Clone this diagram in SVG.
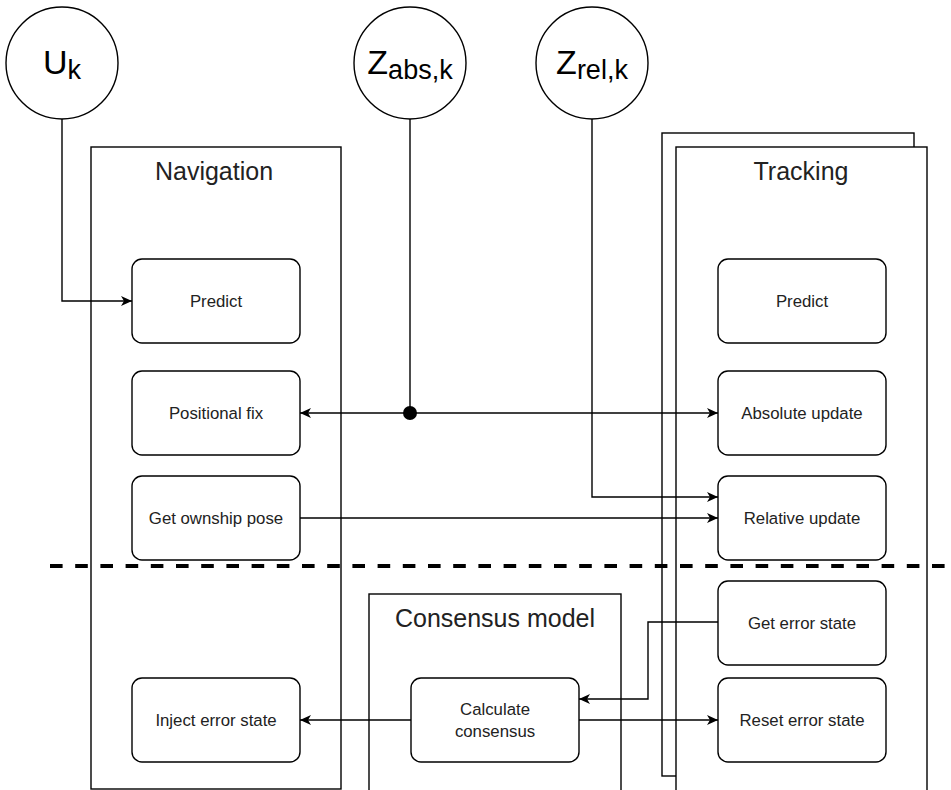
<svg xmlns="http://www.w3.org/2000/svg" width="951" height="790" viewBox="0 0 951 790">
  <style>
    .frame { fill: #ffffff; stroke: #000000; stroke-width: 1.4; }
    .node { fill: #ffffff; stroke: #000000; stroke-width: 1.4; }
    .circ { fill: #ffffff; stroke: #000000; stroke-width: 1.4; }
    .edge { fill: none; stroke: #000000; stroke-width: 1.4; }
    .title { font-family: "Liberation Sans", Arial, Helvetica, sans-serif; font-size: 25px; fill: #222222; text-anchor: middle; }
    .label { font-family: "Liberation Sans", Arial, Helvetica, sans-serif; font-size: 16.8px; fill: #222222; text-anchor: middle; }
    .var { font-family: "Liberation Sans", Arial, Helvetica, sans-serif; font-size: 34px; fill: #000000; text-anchor: middle; }
    .sub { font-size: 27px; }
  </style>
  <defs>
    <marker id="arrow" markerUnits="userSpaceOnUse" markerWidth="12" markerHeight="11" refX="11" refY="5" orient="auto-start-reverse" viewBox="0 0 12 10">
      <path d="M0,0 L11,5 L0,10 L3,5 Z" fill="#000000" stroke="none"/>
    </marker>
  </defs>

  <!-- Input circles -->
  <g id="input-u">
    <circle class="circ" cx="62" cy="63" r="56"/>
    <text class="var" x="62" y="74">U<tspan class="sub" dy="5">k</tspan></text>
  </g>
  <g id="input-zabs">
    <circle class="circ" cx="410" cy="63" r="56"/>
    <text class="var" x="410" y="74">Z<tspan class="sub" dy="5">abs,k</tspan></text>
  </g>
  <g id="input-zrel">
    <circle class="circ" cx="592" cy="63" r="56"/>
    <text class="var" x="592" y="74">Z<tspan class="sub" dy="5">rel,k</tspan></text>
  </g>

  <!-- Containers -->
  <g id="navigation">
    <rect class="frame" x="91" y="147" width="250" height="642"/>
    <text class="title" x="214" y="180">Navigation</text>
  </g>
  <g id="tracking">
    <rect class="frame" x="662" y="133" width="252" height="643"/>
    <rect class="frame" x="676" y="147" width="251" height="660"/>
    <text class="title" x="801" y="180">Tracking</text>
  </g>
  <g id="consensus-model">
    <rect class="frame" x="369" y="594" width="252" height="220"/>
    <text class="title" x="495" y="627">Consensus model</text>
  </g>

  <!-- Navigation nodes -->
  <g id="nav-predict">
    <rect class="node" x="132" y="259" width="168" height="84" rx="10" ry="10"/>
    <text class="label" x="216" y="307">Predict</text>
  </g>
  <g id="nav-positional-fix">
    <rect class="node" x="132" y="371" width="168" height="84" rx="10" ry="10"/>
    <text class="label" x="216" y="419">Positional fix</text>
  </g>
  <g id="nav-get-ownship-pose">
    <rect class="node" x="132" y="476" width="168" height="84" rx="10" ry="10"/>
    <text class="label" x="216" y="524">Get ownship pose</text>
  </g>
  <g id="nav-inject-error-state">
    <rect class="node" x="132" y="678" width="168" height="84" rx="10" ry="10"/>
    <text class="label" x="216" y="726">Inject error state</text>
  </g>

  <!-- Tracking nodes -->
  <g id="trk-predict">
    <rect class="node" x="718" y="259" width="168" height="84" rx="10" ry="10"/>
    <text class="label" x="802" y="307">Predict</text>
  </g>
  <g id="trk-absolute-update">
    <rect class="node" x="718" y="371" width="168" height="84" rx="10" ry="10"/>
    <text class="label" x="802" y="419">Absolute update</text>
  </g>
  <g id="trk-relative-update">
    <rect class="node" x="718" y="476" width="168" height="84" rx="10" ry="10"/>
    <text class="label" x="802" y="524">Relative update</text>
  </g>
  <g id="trk-get-error-state">
    <rect class="node" x="718" y="581" width="168" height="84" rx="10" ry="10"/>
    <text class="label" x="802" y="629">Get error state</text>
  </g>
  <g id="trk-reset-error-state">
    <rect class="node" x="718" y="678" width="168" height="84" rx="10" ry="10"/>
    <text class="label" x="802" y="726">Reset error state</text>
  </g>

  <!-- Consensus node -->
  <g id="calculate-consensus">
    <rect class="node" x="411" y="678" width="168" height="84" rx="10" ry="10"/>
    <text class="label" x="495" y="715">Calculate</text>
    <text class="label" x="495" y="737">consensus</text>
  </g>

  <!-- Separator -->
  <g id="separator">
    <line x1="50" y1="566" x2="951" y2="566" stroke="#000000" stroke-width="4.2" stroke-dasharray="12.6 12.6"/>
  </g>

  <!-- Connectors -->
  <g id="connectors">
    <path class="edge" d="M62,119 L62,301 L132,301" marker-end="url(#arrow)"/>
    <path class="edge" d="M410,119 L410,413"/>
    <path class="edge" d="M300,413 L718,413" marker-start="url(#arrow)" marker-end="url(#arrow)"/>
    <circle cx="410" cy="413" r="7" fill="#000000"/>
    <path class="edge" d="M592,119 L592,497 L718,497" marker-end="url(#arrow)"/>
    <path class="edge" d="M300,518 L718,518" marker-end="url(#arrow)"/>
    <path class="edge" d="M718,622 L648,622 L648,699 L579,699" marker-end="url(#arrow)"/>
    <path class="edge" d="M411,720 L300,720" marker-end="url(#arrow)"/>
    <path class="edge" d="M579,720 L718,720" marker-end="url(#arrow)"/>
  </g>
</svg>
